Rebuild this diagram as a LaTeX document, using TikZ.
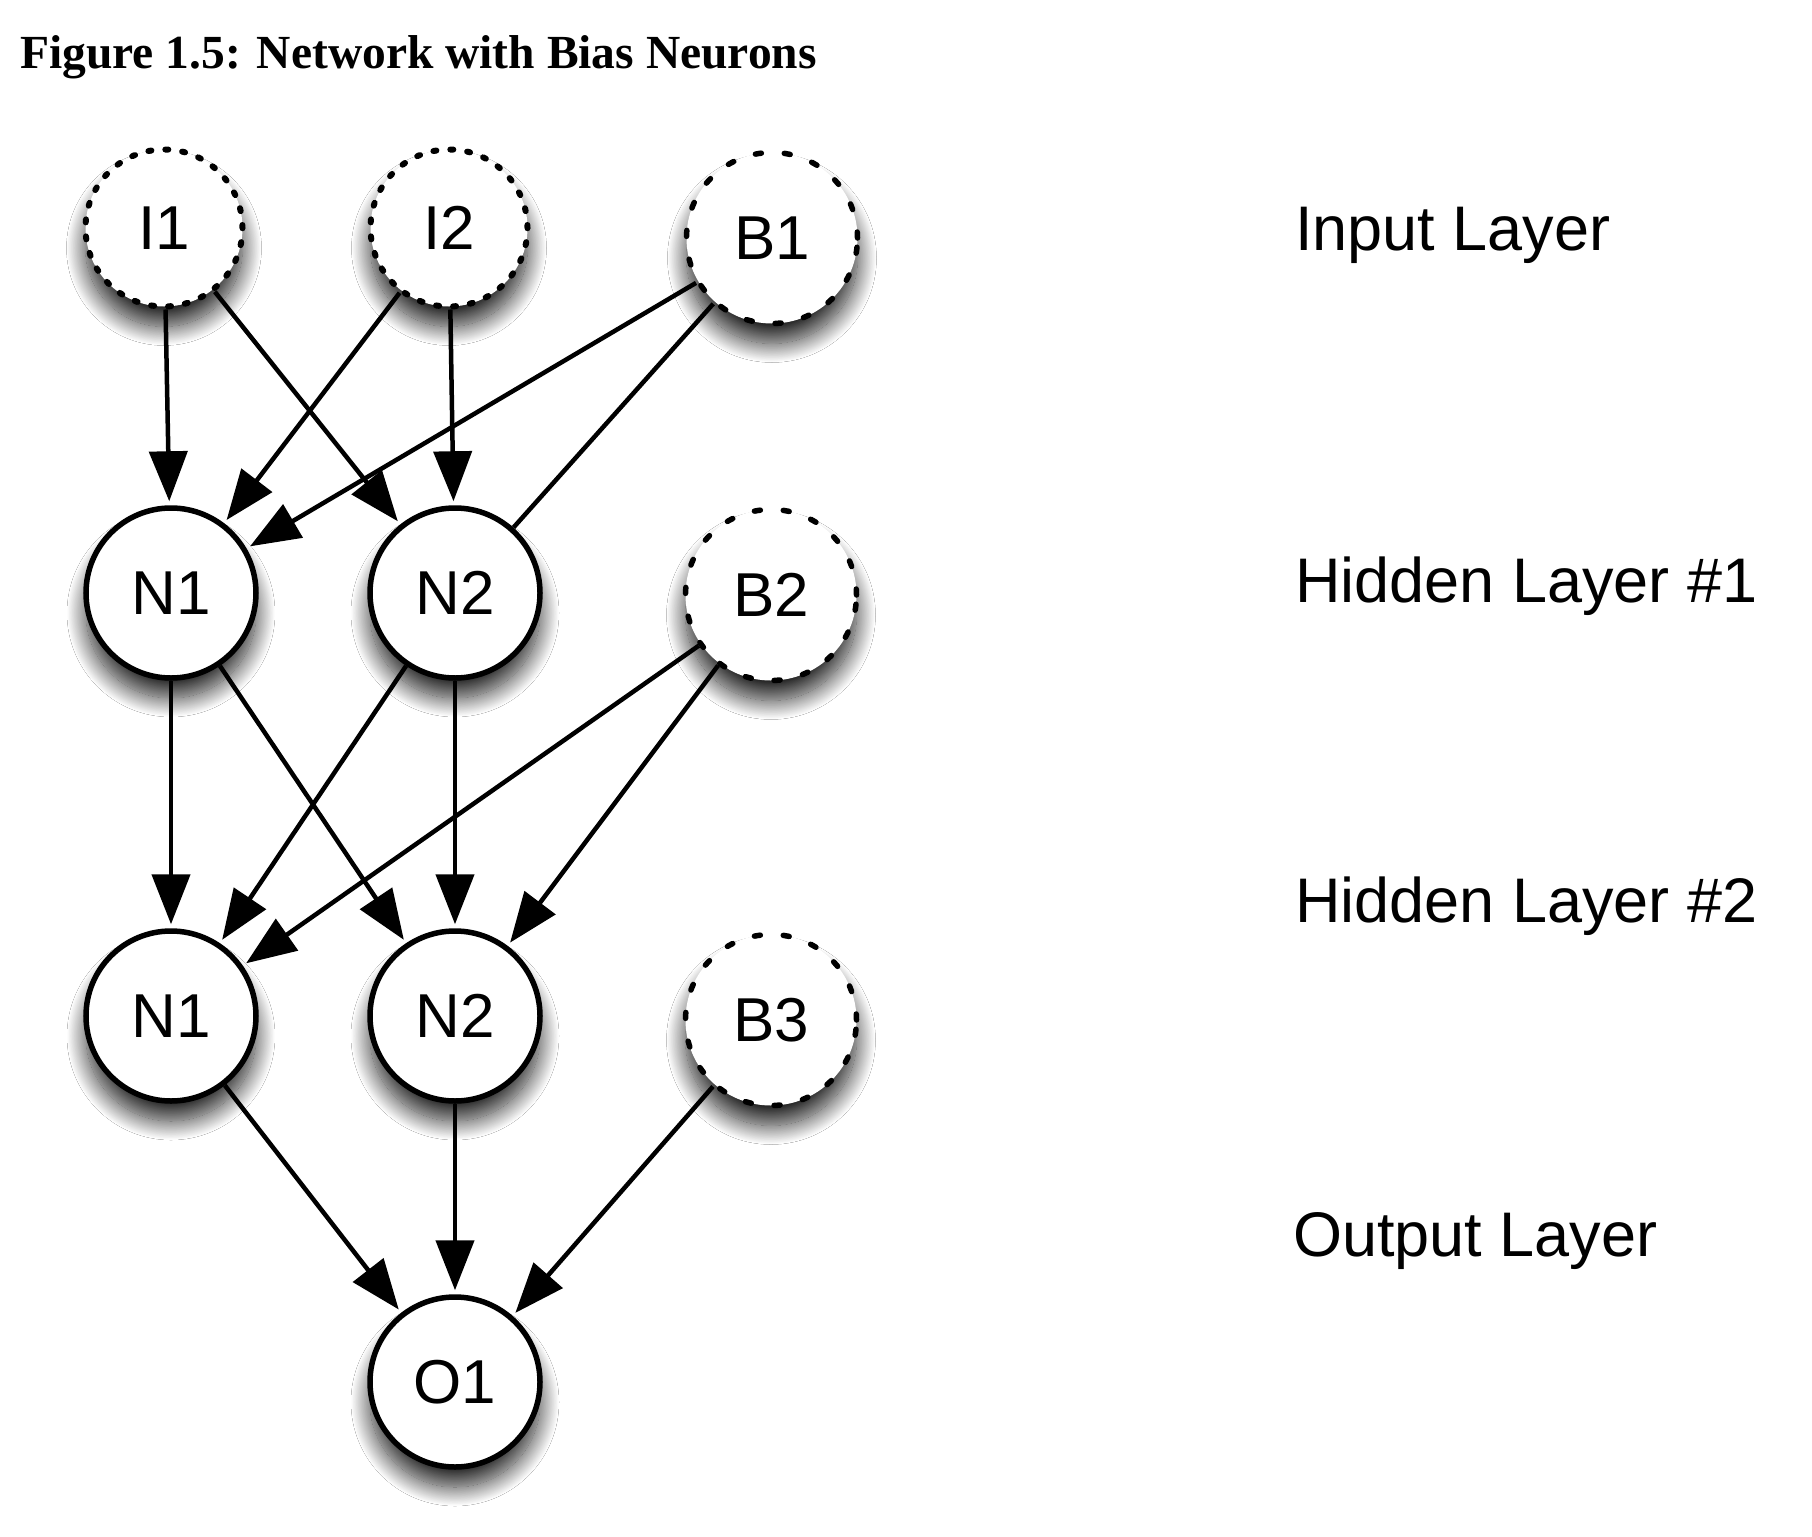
\documentclass[tikz,border=0pt]{standalone}
\usepackage{fontspec}
\setmainfont{Liberation Serif}
\setsansfont{Liberation Sans}
\usetikzlibrary{arrows.meta,shadows.blur}
\begin{document}
\begin{tikzpicture}[x=1bp,y=-1bp,
  neuron/.style={circle, draw=black, fill=white, line width=5.5bp, inner sep=0pt,
    minimum size=170bp, font=\sffamily\fontsize{62bp}{70bp}\selectfont,
    blur shadow={shadow xshift=0bp, shadow yshift=-20bp, shadow blur radius=19bp, shadow blur steps=30, shadow opacity=85}},
  inputn/.style={neuron, line width=6bp, minimum size=157bp, dash pattern=on 3bp off 14bp, line cap=round},
  biasn/.style={neuron, line width=5.5bp, minimum size=171bp, dash pattern=on 6bp off 23bp, line cap=round},
  conn/.style={line width=4.5bp, -{Triangle[length=50bp,width=38bp]}, shorten >=4bp},
  plainconn/.style={line width=4.5bp},
  layer/.style={anchor=base west, inner sep=0pt, font=\sffamily\fontsize{63bp}{72bp}\selectfont}
]
\useasboundingbox (0,0) rectangle (1812,1537);
\fill[white] (0,0) rectangle (1812,1537);

\node[anchor=base west, inner sep=0pt, font=\bfseries\fontsize{47.5bp}{57bp}\selectfont] (title) at (20,69) {Figure 1.5: Network with Bias Neurons};

\node[inputn] (I1) at (164,228) {I1};
\node[inputn] (I2) at (449,228) {I2};
\node[biasn]  (B1) at (772,238) {B1};

\node[neuron] (N1a) at (171,593) {N1};
\node[neuron] (N2a) at (455,593) {N2};
\node[biasn]  (B2) at (771,595) {B2};

\node[neuron] (N1b) at (171,1016) {N1};
\node[neuron] (N2b) at (455,1016) {N2};
\node[biasn]  (B3) at (771,1020) {B3};

\node[neuron] (O1) at (455,1382) {O1};

\node[layer] (Lin) at (1295,250) {Input Layer};
\node[layer] (Lh1) at (1295,602) {Hidden Layer \#1};
\node[layer] (Lh2) at (1295,922) {Hidden Layer \#2};
\node[layer] (Lout) at (1293,1256) {Output Layer};

\draw[conn] (I1) -- (N1a);
\draw[conn] (I1) -- (N2a);
\draw[conn] (I2) -- (N1a);
\draw[conn] (I2) -- (N2a);
\draw[conn] (B1) -- (N1a);
\draw[plainconn] (B1) -- (N2a);

\draw[conn] (N1a) -- (N1b);
\draw[conn] (N1a) -- (N2b);
\draw[conn] (N2a) -- (N1b);
\draw[conn] (N2a) -- (N2b);
\draw[conn] (B2) -- (N1b);
\draw[conn] (B2) -- (N2b);

\draw[conn] (N1b) -- (O1);
\draw[conn] (N2b) -- (O1);
\draw[conn] (B3) -- (O1);
\end{tikzpicture}
\end{document}
